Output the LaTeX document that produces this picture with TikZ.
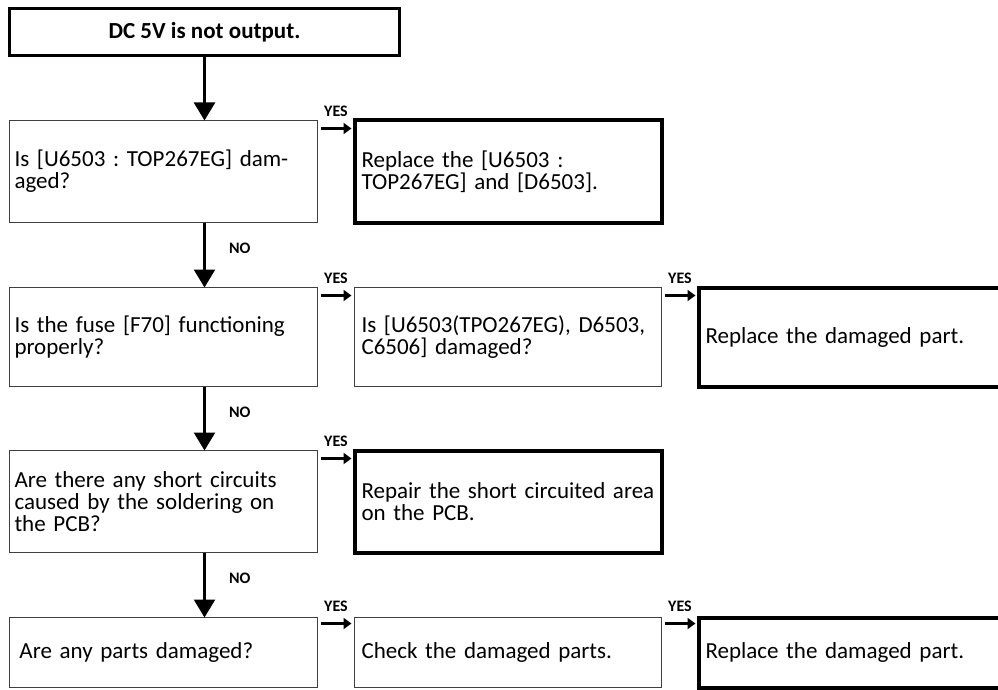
\documentclass[tikz,border=0pt]{standalone}
\usepackage{fontspec}
\setmainfont{Carlito}
\usetikzlibrary{arrows.meta,positioning}

\begin{document}
\begin{tikzpicture}[x=1pt, y=-1pt, font=\fontsize{23}{22}\selectfont\frenchspacing]
    % Styles
    \tikzstyle{startbox}=[rectangle, draw=black, line width=3.5pt, outer sep=0pt, minimum width=390pt, minimum height=47pt, font=\fontsize{23}{22}\selectfont\bfseries]
    \tikzstyle{check}=[rectangle, draw=black!75, line width=1pt, outer sep=0pt, inner xsep=5pt, inner ysep=0pt, text width=298pt, align=left]
    \tikzstyle{test}=[check, inner xsep=7pt, text width=293pt]
    \tikzstyle{action}=[test, draw=black, line width=4pt]
    \tikzstyle{down}=[-{Triangle[width=21pt, length=18pt]}, line width=2.5pt]
    \tikzstyle{yes}=[-{Triangle[width=11pt, length=8pt]}, line width=2.5pt, shorten <=3.5pt, shorten >=3pt]
    \tikzstyle{lbl}=[font=\fontsize{16}{16}\selectfont\bfseries]

    \useasboundingbox (0,0) rectangle (998,690);

    % Start
    \node (start) [startbox, anchor=north west] at (9.5,8.5) {DC 5V is not output.};

    % Questions
    \node (q1) [check, minimum height=102pt, below=65pt of start.south west, anchor=north west] {Is [U6503 : TOP267EG] dam-\\aged?};
    \node (q2) [check, minimum height=99pt, below=65pt of q1.south west, anchor=north west] {Is the fuse [F70] functioning\\properly?};
    \node (q3) [check, minimum height=102pt, below=64pt of q2.south west, anchor=north west] {Are there any short circuits\\caused by the soldering on\\the PCB?};
    \node (q4) [check, inner xsep=10pt, text width=288pt, minimum height=70pt, below=65pt of q3.south west, anchor=north west] {Are any parts damaged?};

    % Second column
    \node (r1) [action, minimum height=102pt, right=37pt of q1.north east, anchor=north west] {Replace the [U6503 :\\TOP267EG] and [D6503].};
    \node (c2) [test, minimum height=99pt, right=37pt of q2.north east, anchor=north west] {Is [U6503(TPO267EG), D6503,\\C6506] damaged?};
    \node (r3) [action, minimum height=102pt, right=37pt of q3.north east, anchor=north west] {Repair the short circuited area\\on the PCB.};
    \node (c4) [test, minimum height=70pt, right=37pt of q4.north east, anchor=north west] {Check the damaged parts.};

    % Third column
    \node (r2) [action, minimum height=99pt, right=37pt of c2.north east, anchor=north west] {Replace the damaged part.};
    \node (r4) [action, minimum height=70pt, right=37pt of c4.north east, anchor=north west] {Replace the damaged part.};

    % NO arrows
    \draw [down] (start.south) -- (q1.north -| start.south);
    \draw [down] (q1.south -| start.south) -- (q2.north -| start.south) node [pos=0.4, right=20pt, lbl] {NO};
    \draw [down] (q2.south -| start.south) -- (q3.north -| start.south) node [pos=0.4, right=20pt, lbl] {NO};
    \draw [down] (q3.south -| start.south) -- (q4.north -| start.south) node [pos=0.4, right=20pt, lbl] {NO};

    % YES arrows
    \draw [yes] ([yshift=-8pt]q1.north east) -- ([yshift=-8pt]r1.north west) node [midway, above=7pt, lbl] {YES};
    \draw [yes] ([yshift=-8pt]q2.north east) -- ([yshift=-8pt]c2.north west) node [midway, above=7pt, lbl] {YES};
    \draw [yes] ([yshift=-8pt]c2.north east) -- ([yshift=-8pt]r2.north west) node [midway, above=7pt, lbl] {YES};
    \draw [yes] ([yshift=-8pt]q3.north east) -- ([yshift=-8pt]r3.north west) node [midway, above=7pt, lbl] {YES};
    \draw [yes] ([yshift=-6pt]q4.north east) -- ([yshift=-6pt]c4.north west) node [midway, above=7pt, lbl] {YES};
    \draw [yes] ([yshift=-6pt]c4.north east) -- ([yshift=-6pt]r4.north west) node [midway, above=7pt, lbl] {YES};

\end{tikzpicture}
\end{document}
